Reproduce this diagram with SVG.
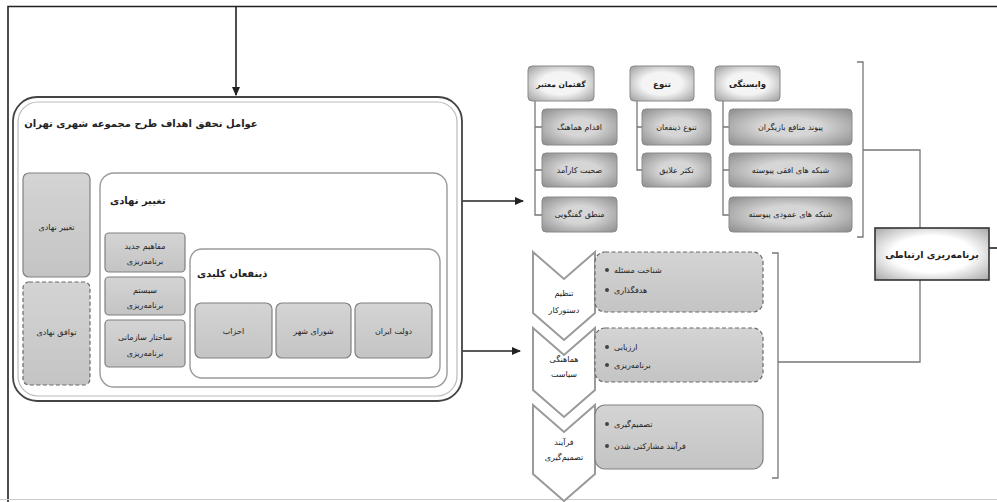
<svg xmlns="http://www.w3.org/2000/svg" width="997" height="502" viewBox="0 0 997 502">
<style>
text{font-family:"DejaVu Sans","Noto Sans",sans-serif;fill:#222;}
.t8{font-size:8px;}
.t9{font-size:8.5px;}
.b{font-weight:bold;}
.ln{fill:none;stroke:#777;stroke-width:1.3;}
.dk{fill:none;stroke:#222;stroke-width:1.6;}
.gbox{fill:url(#gfill);stroke:#808080;stroke-width:1.2;}
.gdash{fill:url(#gfill);stroke:#6a6a6a;stroke-width:1.2;stroke-dasharray:4 2.5;}
.hdr{fill:url(#hfill);stroke:#8a8a8a;stroke-width:1;}
.chd{fill:url(#cfill);stroke:#8a8a8a;stroke-width:1;}
.wbox{fill:#fff;stroke:#9a9a9a;stroke-width:1.4;}
.chev{fill:#fff;stroke:#9a9a9a;stroke-width:2;}
.bul{fill:#444;}
</style>
<defs>
<linearGradient id="gfill" x1="0" y1="0" x2="0" y2="1"><stop offset="0" stop-color="#d4d4d4"/><stop offset="1" stop-color="#c4c4c4"/></linearGradient>
<radialGradient id="hfill" cx="0.5" cy="0.5" r="0.7"><stop offset="0.45" stop-color="#f4f4f4"/><stop offset="1" stop-color="#9c9c9c"/></radialGradient>
<radialGradient id="cfill" cx="0.5" cy="0.5" r="0.7"><stop offset="0.35" stop-color="#d6d6d6"/><stop offset="1" stop-color="#8c8c8c"/></radialGradient>
<radialGradient id="rfill" cx="0.5" cy="0.5" r="0.7"><stop offset="0.5" stop-color="#ffffff"/><stop offset="1" stop-color="#a8a8a8"/></radialGradient>
<marker id="ah" viewBox="0 0 8 8" refX="7" refY="4" markerWidth="6" markerHeight="6" orient="auto"><path d="M0 0.5 L8 4 L0 7.5 Z" fill="#222"/></marker>
</defs>

<g id="connectors">
  <path class="dk" d="M8 502 V6.5 H997"/>
  <path class="dk" d="M236 6.5 V95" marker-end="url(#ah)"/>
  <path class="dk" d="M989 248 H997"/>
  <line x1="0" y1="499.5" x2="997" y2="499.5" stroke="#ccc" stroke-width="1"/>
  <path class="dk" d="M462 201 H523" marker-end="url(#ah)"/>
  <path class="dk" d="M447 351 H520" marker-end="url(#ah)"/>
  <path class="ln" d="M857 62 H863 V237 H857"/>
  <path class="ln" d="M863 150 H920 V228"/>
  <path class="ln" d="M920 280 V362 H778"/>
  <path class="ln" d="M772 253 H778 V478 H772"/>
  <path class="ln" d="M535 101 V215 H542 M535 127 H542 M535 170 H542"/>
  <path class="ln" d="M637 101 V170 H642 M637 127 H642"/>
  <path class="ln" d="M723 101 V215 H729 M723 127 H729 M723 170 H729"/>
</g>

<g id="main-box">
  <rect x="13" y="97" width="449" height="304" rx="24" fill="#fff" stroke="#444" stroke-width="1.8"/>
  <rect x="18" y="102" width="439" height="294" rx="20" fill="none" stroke="#bbb" stroke-width="1.2"/>
  <text class="b" x="141" y="127" text-anchor="middle" style="font-size:10px">عوامل تحقق اهداف طرح مجموعه شهری تهران</text>
</g>

<g id="node-taghir-left">
  <rect class="gbox" x="23" y="173" width="67" height="104" rx="6"/>
  <text class="t8" x="56.5" y="230" text-anchor="middle">تغییر نهادی</text>
</g>
<g id="node-tavafogh">
  <rect class="gdash" x="23" y="282" width="67" height="103" rx="6"/>
  <text class="t8" x="56.5" y="335" text-anchor="middle">توافق نهادی</text>
</g>

<g id="node-taghir-inner">
  <rect class="wbox" x="100" y="173" width="347" height="214" rx="14"/>
  <text class="b" x="110" y="204" style="font-size:10px">تغییر نهادی</text>
</g>
<g id="node-mafahim">
  <rect class="gbox" x="105" y="233" width="80" height="39" rx="4"/>
  <text class="t8" x="145" y="249" text-anchor="middle">مفاهیم جدید</text>
  <text class="t8" x="145" y="264" text-anchor="middle">برنامه‌ریزی</text>
</g>
<g id="node-system">
  <rect class="gbox" x="105" y="277" width="80" height="38" rx="4"/>
  <text class="t8" x="145" y="293" text-anchor="middle">سیستم</text>
  <text class="t8" x="145" y="308" text-anchor="middle">برنامه‌ریزی</text>
</g>
<g id="node-sakhtar">
  <rect class="gbox" x="105" y="320" width="80" height="47" rx="4"/>
  <text class="t8" x="145" y="340" text-anchor="middle">ساختار سازمانی</text>
  <text class="t8" x="145" y="356" text-anchor="middle">برنامه‌ریزی</text>
</g>

<g id="node-zinafan">
  <rect class="wbox" x="190" y="249" width="250" height="129" rx="12"/>
  <text class="b" x="197" y="277" style="font-size:10px">ذینفعان کلیدی</text>
</g>
<g id="node-ahzab">
  <rect class="gbox" x="195" y="303" width="77" height="55" rx="6"/>
  <text class="t8" x="233.5" y="334" text-anchor="middle">احزاب</text>
</g>
<g id="node-shora">
  <rect class="gbox" x="276" y="303" width="75" height="55" rx="6"/>
  <text class="t8" x="313.5" y="334" text-anchor="middle">شورای شهر</text>
</g>
<g id="node-dolat">
  <rect class="gbox" x="355" y="303" width="77" height="55" rx="6"/>
  <text class="t8" x="393.5" y="334" text-anchor="middle">دولت ایران</text>
</g>

<g id="node-goftoman">
  <rect class="hdr" x="528" y="66" width="66" height="35" rx="4"/>
  <text class="t9 b" x="561" y="87" text-anchor="middle" style="font-size:7.5px">گفتمان معتبر</text>
</g>
<g id="node-tanavo">
  <rect class="hdr" x="630" y="66" width="64" height="35" rx="4"/>
  <text class="t9 b" x="662" y="87" text-anchor="middle">تنوع</text>
</g>
<g id="node-vabastegi">
  <rect class="hdr" x="715" y="66" width="65" height="35" rx="4"/>
  <text class="t9 b" x="747.5" y="87" text-anchor="middle">وابستگی</text>
</g>
<g id="node-eghdam">
  <rect class="chd" x="542" y="109" width="75" height="36" rx="4"/>
  <text class="t8" x="579.5" y="130" text-anchor="middle">اقدام هماهنگ</text>
</g>
<g id="node-sohbat">
  <rect class="chd" x="542" y="153" width="75" height="34" rx="4"/>
  <text class="t8" x="579.5" y="173" text-anchor="middle">صحبت کارآمد</text>
</g>
<g id="node-mantegh">
  <rect class="chd" x="542" y="197" width="75" height="35" rx="4"/>
  <text class="t8" x="579.5" y="217" text-anchor="middle">منطق گفتگویی</text>
</g>
<g id="node-tanavo-zinafan">
  <rect class="chd" x="642" y="109" width="69" height="36" rx="4"/>
  <text class="t8" x="676.5" y="130" text-anchor="middle">تنوع ذینفعان</text>
</g>
<g id="node-taksor">
  <rect class="chd" x="642" y="153" width="69" height="34" rx="4"/>
  <text class="t8" x="676.5" y="173" text-anchor="middle">تکثر علایق</text>
</g>
<g id="node-peyvand">
  <rect class="chd" x="729" y="109" width="123" height="36" rx="4"/>
  <text class="t8" x="790.5" y="130" text-anchor="middle">پیوند منافع بازیگران</text>
</g>
<g id="node-ofoghi">
  <rect class="chd" x="729" y="153" width="123" height="34" rx="4"/>
  <text class="t8" x="790.5" y="173" text-anchor="middle">شبکه های افقی پیوسته</text>
</g>
<g id="node-amoodi">
  <rect class="chd" x="729" y="197" width="123" height="35" rx="4"/>
  <text class="t8" x="790.5" y="217" text-anchor="middle">شبکه های عمودی پیوسته</text>
</g>

<g id="node-barnamerizi">
  <rect x="875" y="228" width="114" height="52" fill="url(#rfill)" stroke="#333" stroke-width="1.6"/>
  <text class="b" x="932" y="258" text-anchor="middle" style="font-size:9.5px">برنامه‌ریزی ارتباطی</text>
</g>

<g id="node-chev1">
  <path class="chev" d="M533 252 L564 279 L595 252 L595 313 L564 340 L533 313 Z"/>
  <text class="t8" x="564" y="296" text-anchor="middle">تنظیم</text>
  <text class="t8" x="564" y="313" text-anchor="middle">دستورکار</text>
</g>
<g id="node-chev2">
  <path class="chev" d="M533 328 L564 355 L595 328 L595 390 L564 417 L533 390 Z"/>
  <text class="t8" x="564" y="362" text-anchor="middle">هماهنگی</text>
  <text class="t8" x="564" y="377" text-anchor="middle">سیاست</text>
</g>
<g id="node-chev3">
  <path class="chev" d="M533 405 L564 432 L595 405 L595 474 L564 501 L533 474 Z"/>
  <text class="t8" x="564" y="445" text-anchor="middle">فرآیند</text>
  <text class="t8" x="564" y="460" text-anchor="middle">تصمیم‌گیری</text>
</g>
<g id="node-rect1">
  <rect class="gdash" x="595" y="252" width="168" height="60" rx="10"/>
  <circle class="bul" cx="607" cy="270" r="2"/>
  <text class="t8" x="614" y="273">شناخت مسئله</text>
  <circle class="bul" cx="607" cy="290" r="2"/>
  <text class="t8" x="614" y="293">هدفگذاری</text>
</g>
<g id="node-rect2">
  <rect class="gdash" x="595" y="328" width="168" height="54" rx="10"/>
  <circle class="bul" cx="607" cy="347" r="2"/>
  <text class="t8" x="614" y="350">ارزیابی</text>
  <circle class="bul" cx="607" cy="365" r="2"/>
  <text class="t8" x="614" y="368">برنامه‌ریزی</text>
</g>
<g id="node-rect3">
  <rect class="gbox" x="595" y="405" width="168" height="64" rx="10"/>
  <circle class="bul" cx="607" cy="424" r="2"/>
  <text class="t8" x="614" y="427">تصمیم‌گیری</text>
  <circle class="bul" cx="607" cy="446" r="2"/>
  <text class="t8" x="614" y="449">فرآیند مشارکتی شدن</text>
</g>
</svg>
